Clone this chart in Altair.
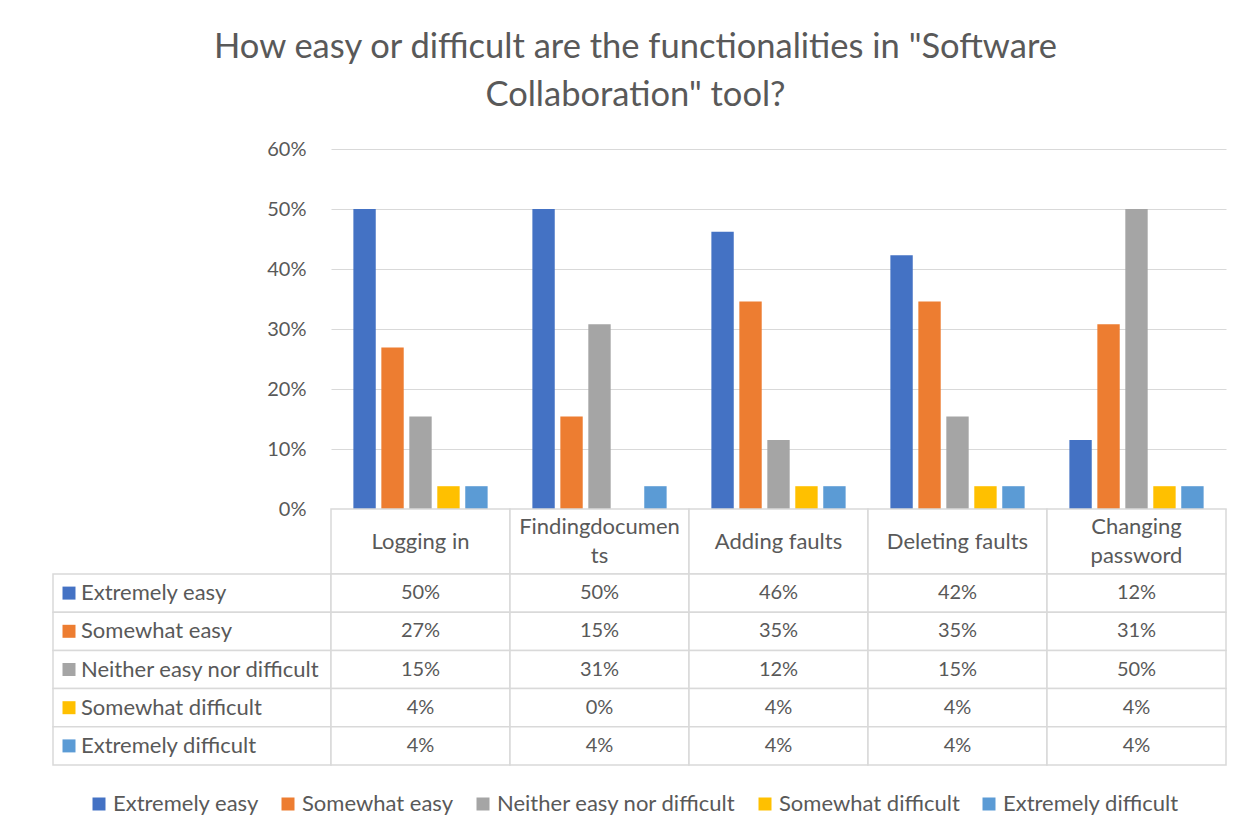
import altair as alt
import pandas as pd

# Survey categories (functionalities) and their header labels, split into lines
categories = ["Logging in", "Findingdocuments", "Adding faults", "Deleting faults", "Changing password"]
category_lines = [["Logging in"], ["Findingdocumen", "ts"], ["Adding faults"], ["Deleting faults"], ["Changing", "password"]]

# Answer options and their colours
series = ["Extremely easy", "Somewhat easy", "Neither easy nor difficult", "Somewhat difficult", "Extremely difficult"]
colors = ["#4472C4", "#ED7D31", "#A5A5A5", "#FFC000", "#5B9BD5"]

# Share of respondents (%) per category, one list per answer option
extremely_easy = [50.0, 50.0, 46.2, 42.3, 11.5]
somewhat_easy = [26.9, 15.4, 34.6, 34.6, 30.8]
neither = [15.4, 30.8, 11.5, 15.4, 50.0]
somewhat_difficult = [3.8, 0.0, 3.8, 3.8, 3.8]
extremely_difficult = [3.8, 3.8, 3.8, 3.8, 3.8]

y_ticks = [0, 10, 20, 30, 40, 50, 60]

FONT = "Lato"
TEXT = "#595959"
LINE = "#d9d9d9"
WORD_SIZE = 22
NUM_SIZE = 20

values = [extremely_easy, somewhat_easy, neither, somewhat_difficult, extremely_difficult]
rows = []
for s, vals in zip(series, values):
    for c, v in zip(categories, vals):
        rows.append({"category": c, "series": s, "value": v})
df = pd.DataFrame(rows)

header_df = pd.DataFrame({"category": categories, "lines": category_lines})
series_df = pd.DataFrame({"series": series})

color_scale = alt.Scale(domain=series, range=colors)
cat_x = alt.X("category:N", sort=categories, scale=alt.Scale(paddingInner=0, paddingOuter=0), axis=None)
row_y = alt.Y("series:N", sort=series, scale=alt.Scale(paddingInner=0, paddingOuter=0), axis=None)

TABLE_W_LEFT = 278
PLOT_W = 895
PLOT_H = 360
HEADER_H = 65
TABLE_H = 191
HEADER_LINE_H = 29

# Clustered bars
bars = alt.Chart(df).mark_bar().encode(
    x=cat_x,
    xOffset=alt.XOffset("series:N", sort=series,
                        scale=alt.Scale(paddingInner=0.2, paddingOuter=0.8)),
    y=alt.Y("value:Q", scale=alt.Scale(domain=[0, 60], nice=False),
            axis=alt.Axis(values=y_ticks, labelExpr="datum.value + '%'", title=None,
                          grid=True, gridColor=LINE, gridWidth=1, domain=False, ticks=False,
                          labelPadding=25, labelFontSize=NUM_SIZE, labelFont=FONT, labelColor=TEXT)),
    color=alt.Color("series:N", sort=series, scale=color_scale,
                    legend=alt.Legend(orient="none", legendX=-243, legendY=644,
                                      direction="horizontal", title=None,
                                      symbolType="square", symbolSize=169, symbolStrokeWidth=0,
                                      labelFontSize=WORD_SIZE, labelFont=FONT, labelColor=TEXT,
                                      labelLimit=0, labelOffset=3, columnPadding=18)),
).properties(width=PLOT_W, height=PLOT_H)

# Header row with category names (two-line names are lifted by half a line)
header_cells = alt.Chart(header_df).mark_rect(fill="white", stroke=LINE, strokeWidth=1.5).encode(x=cat_x)
header_one = alt.Chart(header_df).transform_filter("length(datum.lines) == 1").mark_text(
    font=FONT, fontSize=WORD_SIZE, color=TEXT, lineHeight=HEADER_LINE_H, baseline="middle"
).encode(x=cat_x, text="lines:N")
header_two = alt.Chart(header_df).transform_filter("length(datum.lines) == 2").mark_text(
    font=FONT, fontSize=WORD_SIZE, color=TEXT, lineHeight=HEADER_LINE_H, baseline="middle",
    dy=-HEADER_LINE_H / 2
).encode(x=cat_x, text="lines:N")
header = alt.layer(header_cells, header_one, header_two).properties(width=PLOT_W, height=HEADER_H)

# Data table body
grid_cells = alt.Chart(df).mark_rect(fill="white", stroke=LINE, strokeWidth=1.5).encode(x=cat_x, y=row_y)
grid_text = alt.Chart(df).transform_calculate(
    label="format(datum.value, '.0f') + '%'"
).mark_text(font=FONT, fontSize=NUM_SIZE, color=TEXT).encode(x=cat_x, y=row_y, text="label:N")
grid = alt.layer(grid_cells, grid_text).properties(width=PLOT_W, height=TABLE_H)

# Left column of the table: legend keys and series names
left_cells = alt.Chart(series_df).mark_rect(fill="white", stroke=LINE, strokeWidth=1.5).encode(y=row_y)
left_keys = alt.Chart(series_df).mark_square(size=169, opacity=1).encode(
    x=alt.value(16), y=row_y,
    color=alt.Color("series:N", sort=series, scale=color_scale, legend=None))
left_text = alt.Chart(series_df).mark_text(font=FONT, fontSize=WORD_SIZE, color=TEXT, align="left").encode(
    x=alt.value(28), y=row_y, text="series:N")
left = alt.layer(left_cells, left_keys, left_text).properties(width=TABLE_W_LEFT, height=TABLE_H)

# Empty placeholders for the grid's left column
spacer_top = alt.Chart(series_df).mark_point(opacity=0).properties(width=TABLE_W_LEFT, height=PLOT_H)
spacer_mid = alt.Chart(series_df).mark_point(opacity=0).properties(width=TABLE_W_LEFT, height=HEADER_H)

chart = alt.concat(
    spacer_top, bars, spacer_mid, header, left, grid,
    columns=2, spacing=0, bounds="flush", align="each",
    title=alt.TitleParams(
        text=['How easy or difficult are the functionalities in "Software',
              'Collaboration" tool?'],
        font=FONT, fontSize=34.5, fontWeight="normal", color=TEXT,
        anchor="middle", lineHeight=48, offset=26, dx=-4),
).resolve_scale(color="independent").configure_view(stroke=None).properties(
    padding={"left": 52, "top": 29, "right": 0, "bottom": 0},
    background="white",
)

chart.save("out.html", embed_options={"renderer": "svg", "actions": False})
